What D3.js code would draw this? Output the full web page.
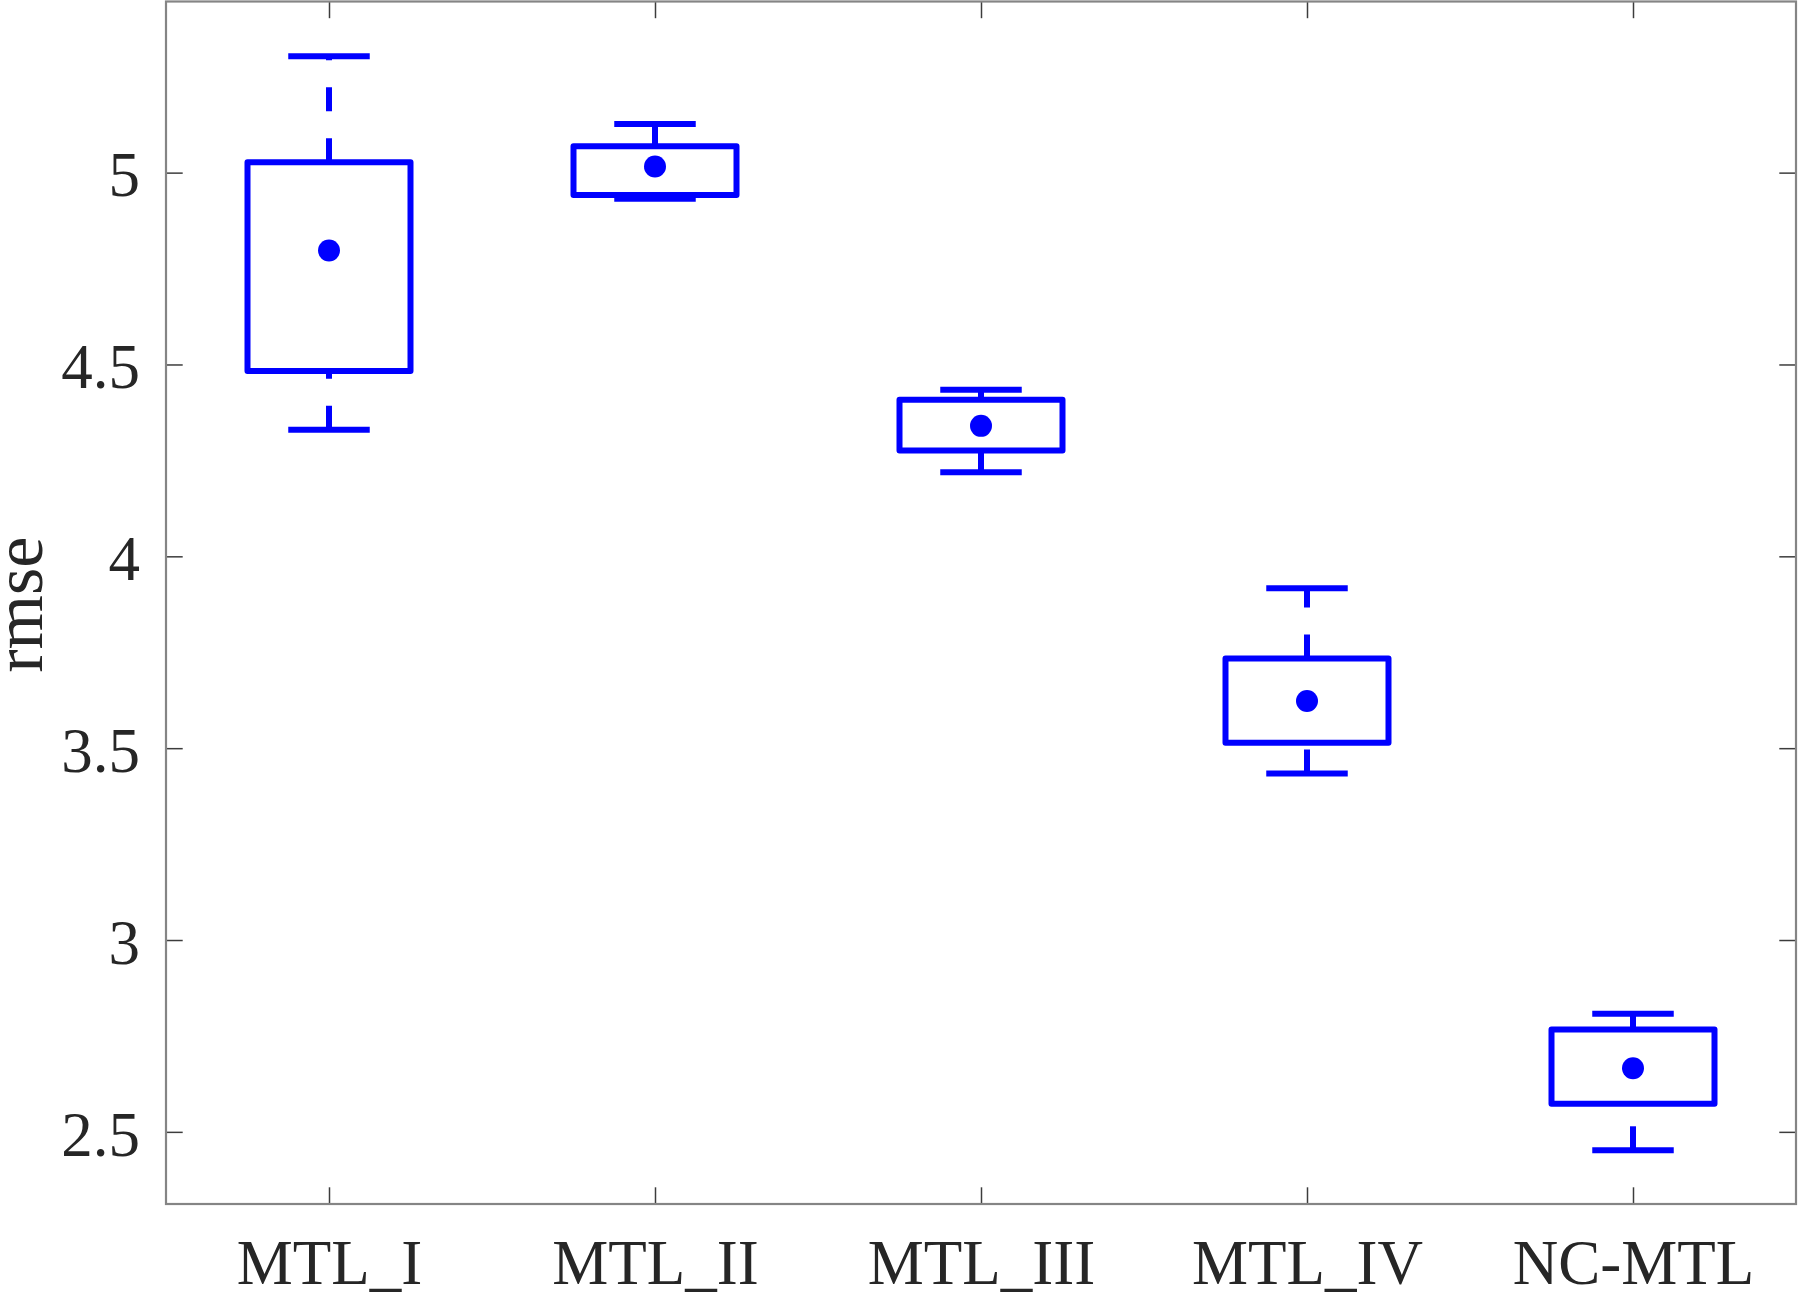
<!DOCTYPE html>
<html>
<head>
<meta charset="utf-8">
<script src="https://cdn.jsdelivr.net/npm/d3@7"></script>
<style>
  html, body { margin: 0; padding: 0; background: #fff; }
  svg { display: block; }
</style>
</head>
<body>
<svg id="chart" width="1800" height="1299"></svg>
<script>
// ---- data ----
const categories   = ["MTL_I", "MTL_II", "MTL_III", "MTL_IV", "NC-MTL"];
const upperWhisker = [5.303, 5.127, 4.434, 3.917, 2.808];
const q3Values     = [5.027, 5.069, 4.408, 3.734, 2.767];
const centerDots   = [4.797, 5.016, 4.340, 3.623, 2.666];
const q1Values     = [4.483, 4.942, 4.276, 3.514, 2.573];
const lowerWhisker = [4.330, 4.932, 4.219, 3.434, 2.452];
const yTickValues  = [2.5, 3, 3.5, 4, 4.5, 5];
const yLabel = "rmse";

(function () {
// ---- layout ----
const W = 1800, H = 1299;
const mLeft = 166, mRight = 1796, mTop = 1.5, mBottom = 1204;
const fontFamily = "'Liberation Serif', 'Times New Roman', Times, serif";
const textColor = "#262626";
const blue = "#0000ff";
const lw = 6;
const tickLen = 16.7;

const svg = d3.select("#chart");
svg.append("rect").attr("width", W).attr("height", H).attr("fill", "#fff");

const x = d3.scalePoint().domain(categories).range([mLeft, mRight]).padding(0.5);
const y = d3.scaleLinear().domain([2.312, 5.446]).range([mBottom, mTop]);
const step = x.step();
const boxW = step * 0.5;
const capW = step * 0.25;

const rows = categories.map((c, i) => ({
  cat: c, hi: upperWhisker[i], q3: q3Values[i], mid: centerDots[i], q1: q1Values[i], lo: lowerWhisker[i]
}));

// ---- axes (ticks on all four sides, pointing inward) ----
function styleAxis(g) {
  g.select(".domain").remove();
  g.selectAll(".tick line").attr("stroke", "#3c3c3c").attr("stroke-width", 1.5);
  g.selectAll(".tick text").attr("fill", textColor)
    .attr("font-family", fontFamily).attr("font-size", 63);
}

// bottom
svg.append("g").attr("transform", `translate(0,${mBottom})`)
  .call(d3.axisBottom(x).tickSizeInner(-tickLen).tickSizeOuter(0).tickPadding(0))
  .call(styleAxis)
  .call(g => g.selectAll(".tick text").attr("y", 80).attr("dy", 0));
// top
svg.append("g").attr("transform", `translate(0,${mTop})`)
  .call(d3.axisTop(x).tickSizeInner(-tickLen).tickSizeOuter(0).tickFormat(""))
  .call(styleAxis);
// left
svg.append("g").attr("transform", `translate(${mLeft},0)`)
  .call(d3.axisLeft(y).tickValues(yTickValues).tickSizeInner(-tickLen).tickSizeOuter(0)
        .tickFormat(d3.format("~g")))
  .call(styleAxis)
  .call(g => g.selectAll(".tick text").attr("x", -26).attr("dy", "0.37em"));
// right
svg.append("g").attr("transform", `translate(${mRight},0)`)
  .call(d3.axisRight(y).tickValues(yTickValues).tickSizeInner(-tickLen).tickSizeOuter(0).tickFormat(""))
  .call(styleAxis);

// frame
svg.append("rect")
  .attr("x", mLeft).attr("y", mTop)
  .attr("width", mRight - mLeft).attr("height", mBottom - mTop)
  .attr("fill", "none").attr("stroke", "#858585").attr("stroke-width", 2.2);

// y label
svg.append("text")
  .attr("transform", `translate(42,${(mTop + mBottom) / 2 + 2}) rotate(-90)`)
  .attr("text-anchor", "middle")
  .attr("font-family", fontFamily).attr("font-size", 70)
  .attr("fill", textColor)
  .text(yLabel);

// ---- boxes ----
const gBox = svg.append("g");
const groups = gBox.selectAll("g.box").data(rows).join("g").attr("class", "box");

// whiskers: drawn from the lower value up to the higher value (dash starts at lower end)
groups.append("line")
  .attr("x1", d => x(d.cat)).attr("x2", d => x(d.cat))
  .attr("y1", d => y(d.q3)).attr("y2", d => y(d.hi))
  .attr("stroke", blue).attr("stroke-width", lw).attr("stroke-dasharray", "24,27");
groups.append("line")
  .attr("x1", d => x(d.cat)).attr("x2", d => x(d.cat))
  .attr("y1", d => y(d.lo)).attr("y2", d => y(d.q1))
  .attr("stroke", blue).attr("stroke-width", lw).attr("stroke-dasharray", "24,27");

// caps
groups.append("line")
  .attr("x1", d => x(d.cat) - capW / 2).attr("x2", d => x(d.cat) + capW / 2)
  .attr("y1", d => y(d.hi)).attr("y2", d => y(d.hi))
  .attr("stroke", blue).attr("stroke-width", lw);
groups.append("line")
  .attr("x1", d => x(d.cat) - capW / 2).attr("x2", d => x(d.cat) + capW / 2)
  .attr("y1", d => y(d.lo)).attr("y2", d => y(d.lo))
  .attr("stroke", blue).attr("stroke-width", lw);

// box
groups.append("rect")
  .attr("x", d => x(d.cat) - boxW / 2).attr("width", boxW)
  .attr("y", d => y(d.q3)).attr("height", d => y(d.q1) - y(d.q3))
  .attr("fill", "none").attr("stroke", blue).attr("stroke-width", lw)
  .attr("stroke-linejoin", "round");

// center dot
groups.append("circle")
  .attr("cx", d => x(d.cat)).attr("cy", d => y(d.mid)).attr("r", 11)
  .attr("fill", blue);
})();
</script>
</body>
</html>
